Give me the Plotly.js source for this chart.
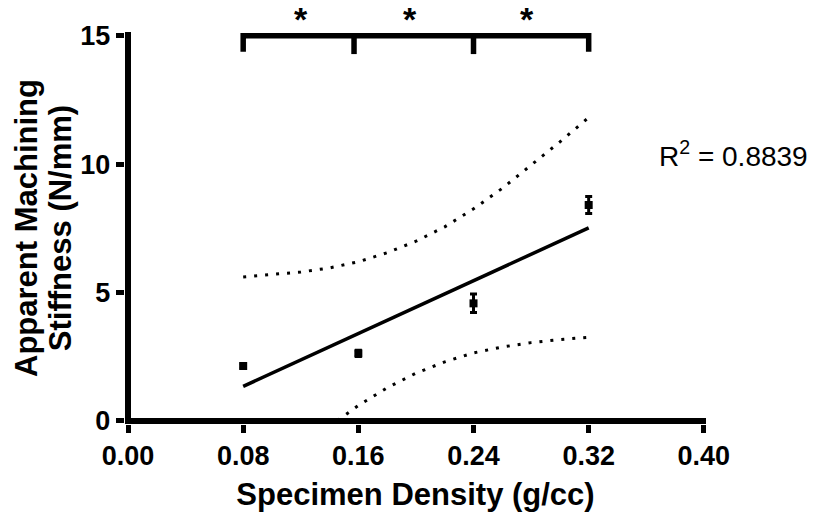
<!DOCTYPE html>
<html>
<head>
<meta charset="utf-8">
<script src="https://cdn.plot.ly/plotly-3.0.1.min.js"></script>
<style>html,body{margin:0;padding:0;background:#fff;}#chart{width:814px;height:514px;}</style>
</head>
<body>
<div id="chart"></div>
<script>
// ---- data ----
const densityX = [0.08, 0.16, 0.24, 0.32];
const stiffnessMean = [2.14, 2.63, 4.58, 8.41];
const stiffnessErr = [0.08, 0.12, 0.36, 0.33];

const fitX = [0.08, 0.32];
const fitY = [1.345, 7.52];

const bandX = [0.08, 0.10, 0.12, 0.14, 0.16, 0.18, 0.20, 0.22, 0.24, 0.26, 0.28, 0.30, 0.32];
const bandUpper = [5.61, 5.70, 5.80, 5.96, 6.20, 6.55, 7.00, 7.56, 8.26, 9.06, 9.95, 10.87, 11.82];
const bandLower = [-2.95, -2.00, -1.07, -0.21, 0.60, 1.29, 1.86, 2.30, 2.65, 2.88, 3.05, 3.17, 3.26];

const bracketX = [0.08, 0.08, 0.32, 0.32, null, 0.157, 0.157, null, 0.24, 0.24];
const bracketY = [14.38, 15, 15, 14.38, null, 15, 14.29, null, 15, 14.29];
const starX = [0.12, 0.196, 0.277];
const starText = '*';

const xTickVals = [0, 0.08, 0.16, 0.24, 0.32, 0.40];
const xTickText = ['0.00', '0.08', '0.16', '0.24', '0.32', '0.40'];
const yTickVals = [0, 5, 10, 15];
const yTickText = ['0', '5', '10', '15'];

const xTitle = 'Specimen Density (g/cc)';
const yTitle = 'Apparent Machining<br>Stiffness (N/mm)';
const r2Label = 'R<sup>2</sup> = 0.8839';

// ---- drawing ----
const FONT = 'Liberation Sans, Arial, Helvetica, sans-serif';
const black = '#000000';

const traces = [
  { x: bandX, y: bandUpper, mode: 'lines', line: { color: black, width: 3, dash: '3px,8px' }, hoverinfo: 'skip', showlegend: false },
  { x: bandX, y: bandLower, mode: 'lines', line: { color: black, width: 3, dash: '3px,8px' }, hoverinfo: 'skip', showlegend: false },
  { x: fitX, y: fitY, mode: 'lines', line: { color: black, width: 3.5 }, showlegend: false },
  { x: densityX, y: stiffnessMean, mode: 'markers',
    marker: { symbol: 'square', size: 8, color: black },
    error_y: { type: 'data', array: stiffnessErr, visible: true, color: black, thickness: 3, width: 3.5 },
    showlegend: false },
  { x: bracketX, y: bracketY, mode: 'lines', line: { color: black, width: 5.5 }, connectgaps: false, showlegend: false, hoverinfo: 'skip' }
];

const annotations = starX.map(function (sx) {
  return { x: sx, y: 15, xref: 'x', yref: 'y', text: starText, showarrow: false,
           yanchor: 'bottom', yshift: -4, font: { family: FONT, size: 34, color: black, weight: 'bold' } };
});
annotations.push({ x: 0.915, y: 0.69, xref: 'paper', yref: 'paper', xanchor: 'left', yanchor: 'middle',
  text: r2Label, showarrow: false, font: { family: FONT, size: 28, color: black } });

const layout = {
  width: 814, height: 514,
  paper_bgcolor: '#ffffff', plot_bgcolor: '#ffffff',
  margin: { l: 125.1, r: 107.6, t: 31.95, b: 90.4, pad: 0 },
  showlegend: false,
  font: { family: FONT, color: black },
  xaxis: {
    range: [-0.0021, 0.4015],
    tickvals: xTickVals, ticktext: xTickText,
    ticks: 'outside', ticklen: 8, tickwidth: 5, tickcolor: black,
    showline: false, showgrid: false,
    zeroline: true, zerolinewidth: 6, zerolinecolor: black,
    tickfont: { family: FONT, size: 27, color: black, weight: 'bold' },
    title: { text: xTitle, font: { family: FONT, size: 31, color: black, weight: 'bold' }, standoff: 12 }
  },
  yaxis: {
    range: [-0.12, 15.15],
    tickvals: yTickVals, ticktext: yTickText,
    ticks: 'outside', ticklen: 8.4, tickwidth: 5, tickcolor: black,
    showline: false, showgrid: false,
    zeroline: true, zerolinewidth: 6, zerolinecolor: black,
    tickfont: { family: FONT, size: 27, color: black, weight: 'bold' },
    title: { text: yTitle, font: { family: FONT, size: 31, color: black, weight: 'bold' }, standoff: 0 }
  },
  annotations: annotations
};

Plotly.newPlot('chart', traces, layout, { staticPlot: true, displayModeBar: false }).then(function () {
  // tighten the line spacing of the two-line y title and nudge it toward the axis
  const yt = document.querySelector('.ytitle');
  if (yt) {
    yt.querySelectorAll('tspan.line').forEach(function (t, i) {
      if (i > 0) t.setAttribute('dy', '1.1em');
    });
    const tf = yt.getAttribute('transform') || '';
    yt.setAttribute('transform', 'translate(7,0) ' + tf);
  }
});
</script>
</body>
</html>
